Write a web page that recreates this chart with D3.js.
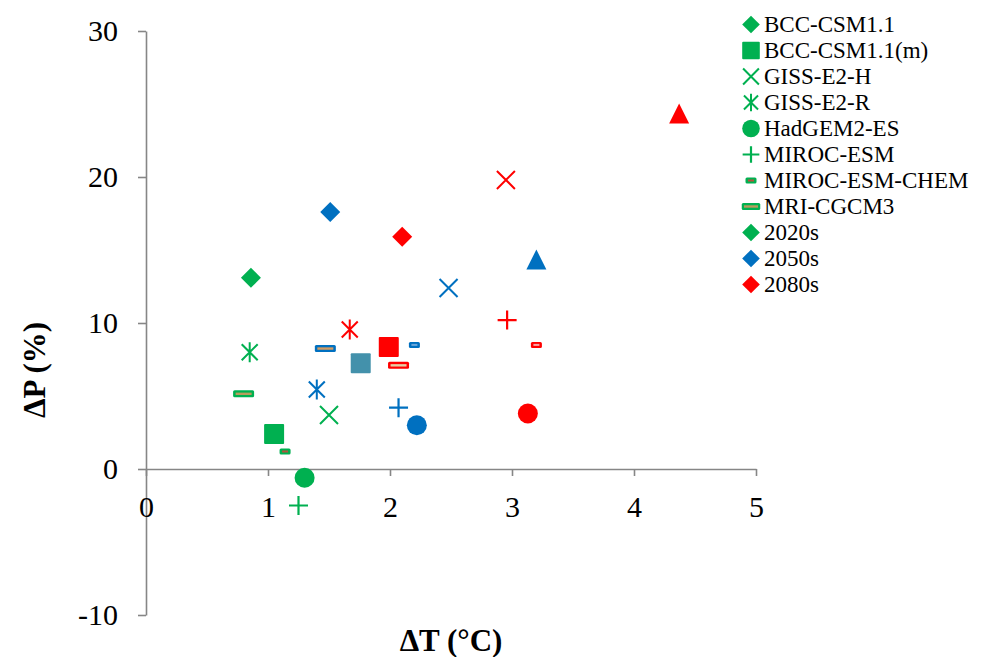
<!DOCTYPE html>
<html>
<head>
<meta charset="utf-8">
<script src="https://cdn.jsdelivr.net/npm/d3@7"></script>
<style>
  body { margin: 0; background: #fff; }
  svg { display: block; font-family: "Liberation Serif", "Times New Roman", serif; }
</style>
</head>
<body>
<div id="chart"></div>
<script>
// Models (last one is the unlabelled triangle)
const models = ['BCC-CSM1.1', 'BCC-CSM1.1(m)', 'GISS-E2-H', 'GISS-E2-R', 'HadGEM2-ES',
  'MIROC-ESM', 'MIROC-ESM-CHEM', 'MRI-CGCM3', ''];
const periods = ['2020s', '2050s', '2080s'];

// ΔT (°C) and ΔP (%) per model, one pair of arrays per period
const dT2020s = [0.86, 1.05, 1.50, 0.85, 1.30, 1.25, 1.14, 0.80, null];
const dP2020s = [13.1, 2.4, 3.7, 8.0, -0.6, -2.5, 1.2, 5.15, null];
const dT2050s = [1.51, 1.76, 2.48, 1.40, 2.22, 2.07, 2.20, 1.47, 3.20];
const dP2050s = [17.6, 7.25, 12.4, 5.45, 3.0, 4.2, 8.5, 8.25, 14.35];
const dT2080s = [2.10, 1.99, 2.95, 1.67, 3.13, 2.96, 3.20, 2.07, 4.37];
const dP2080s = [15.9, 8.35, 19.8, 9.55, 3.8, 10.2, 8.5, 7.1, 24.35];

const xTicks = [0, 1, 2, 3, 4, 5];
const yTicks = [-10, 0, 10, 20, 30];

const shapes = ['diamond', 'square', 'cross', 'star', 'circle', 'plus', 'dashS', 'dashL', 'triangle'];
const colors = { '2020s': '#00B050', '2050s': '#0070C0', '2080s': '#FF0000' };
const squareColors = { '2020s': '#00B050', '2050s': '#4391AB', '2080s': '#FF0000' };
const dashSInner = { '2020s': '#B5543C', '2050s': '#6AA6DA', '2080s': '#F6A6A6' };
const dashLInner = { '2020s': '#B99C5C', '2050s': '#D49C62', '2080s': '#E6D0A6' };

const series = [
  { period: '2020s', t: dT2020s, p: dP2020s },
  { period: '2050s', t: dT2050s, p: dP2050s },
  { period: '2080s', t: dT2080s, p: dP2080s }
];

const W = 1003, H = 657;
const svg = d3.select('#chart').append('svg').attr('width', W).attr('height', H);

const x = d3.scaleLinear().domain([0, 5]).range([146, 756]);
const y = d3.scaleLinear().domain([-10, 30]).range([615, 31]);

const axisColor = '#868686';

// Y axis
const yAxis = svg.append('g')
  .attr('transform', `translate(${x(0)},0)`)
  .call(d3.axisLeft(y).tickValues(yTicks).tickFormat(d => String(d))
    .tickSize(8).tickSizeOuter(0).tickPadding(20));
// X axis at ΔP = 0
const xAxis = svg.append('g')
  .attr('transform', `translate(0,${y(0)})`)
  .call(d3.axisBottom(x).tickValues(xTicks).tickFormat(d => String(d))
    .tickSize(7).tickSizeOuter(0).tickPadding(20));

[xAxis, yAxis].forEach(a => {
  a.select('.domain').attr('stroke', axisColor).attr('stroke-width', 1.6);
  a.selectAll('.tick line').attr('stroke', axisColor).attr('stroke-width', 1.6);
  a.selectAll('.tick text').attr('fill', '#000')
    .style('font-family', '"Liberation Serif", "Times New Roman", serif')
    .style('font-size', '30px');
});

// Axis titles
svg.append('text')
  .attr('x', 451).attr('y', 651)
  .attr('text-anchor', 'middle')
  .style('font-size', '31px').style('font-weight', 'bold')
  .text('ΔT (°C)');
svg.append('text')
  .attr('transform', 'translate(45,370) rotate(-90)')
  .attr('text-anchor', 'middle')
  .style('font-size', '31px').style('font-weight', 'bold')
  .text('ΔP (%)');

function drawMarker(g, shape, period, k) {
  const c = colors[period];
  switch (shape) {
    case 'diamond':
      g.append('path').attr('d', `M0,${-10 * k}L${10 * k},0L0,${10 * k}L${-10 * k},0Z`).attr('fill', c);
      break;
    case 'square':
      g.append('rect').attr('x', -10 * k).attr('y', -10 * k).attr('width', 20 * k).attr('height', 20 * k)
        .attr('rx', 1).attr('fill', squareColors[period]);
      break;
    case 'cross':
      g.append('path').attr('d', `M${-9 * k},${-9 * k}L${9 * k},${9 * k}M${-9 * k},${9 * k}L${9 * k},${-9 * k}`)
        .attr('stroke', c).attr('stroke-width', 2).attr('fill', 'none');
      break;
    case 'star':
      g.append('path').attr('d', `M0,${-10 * k}V${10 * k}M${-8 * k},${-8 * k}L${8 * k},${8 * k}M${-8 * k},${8 * k}L${8 * k},${-8 * k}`)
        .attr('stroke', c).attr('stroke-width', 2).attr('fill', 'none');
      break;
    case 'circle':
      g.append('circle').attr('r', 10 * k).attr('fill', c);
      break;
    case 'plus':
      g.append('path').attr('d', `M${-9.5 * k},0H${9.5 * k}M0,${-9.5 * k}V${9.5 * k}`)
        .attr('stroke', c).attr('stroke-width', 2.2).attr('fill', 'none');
      break;
    case 'dashS':
      g.append('rect').attr('x', -5.5).attr('y', -3).attr('width', 11).attr('height', 6).attr('rx', 1.5).attr('fill', c);
      g.append('rect').attr('x', -3).attr('y', -1).attr('width', 6).attr('height', 2).attr('fill', dashSInner[period]);
      break;
    case 'dashL':
      g.append('rect').attr('x', -10.5 * k).attr('y', -3.5).attr('width', 21 * k).attr('height', 7).attr('rx', 1.5).attr('fill', c);
      g.append('rect').attr('x', -8 * k).attr('y', -1.2).attr('width', 16 * k).attr('height', 2.4).attr('fill', dashLInner[period]);
      break;
    case 'triangle':
      g.append('path').attr('d', `M0,${-10 * k}L${10 * k},${10 * k}L${-10 * k},${10 * k}Z`).attr('fill', c);
      break;
  }
}

// Points
series.forEach(s => {
  s.t.forEach((t, i) => {
    if (t === null) return;
    const g = svg.append('g').attr('transform', `translate(${x(t)},${y(s.p[i])})`);
    drawMarker(g, shapes[i], s.period, 1);
  });
});

// Legend: models in green, then periods as diamonds
const legendItems = models.slice(0, 8).map((m, i) => ({ label: m, shape: shapes[i], period: '2020s' }))
  .concat(periods.map(p => ({ label: p, shape: 'diamond', period: p })));

const legend = svg.append('g');
legendItems.forEach((d, i) => {
  const row = legend.append('g').attr('transform', `translate(751,${24.5 + i * 26})`);
  drawMarker(row.append('g'), d.shape, d.period, 0.88);
  row.append('text').attr('x', 13).attr('dy', '0.34em')
    .style('font-size', '23px').text(d.label);
});
</script>
</body>
</html>
